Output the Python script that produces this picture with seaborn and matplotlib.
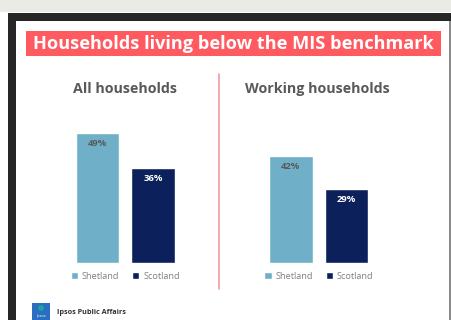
import matplotlib
matplotlib.use("Agg")
import matplotlib.pyplot as plt
from matplotlib.patches import Rectangle, Ellipse
import seaborn as sns
import pandas as pd

regions = ["Shetland", "Scotland"]
all_households = [49, 36]
working_households = [42, 29]
panel_titles = ["All households", "Working households"]
chart_title = "Households living below the MIS benchmark"
footer_text = "Ipsos Public Affairs"

palette = {"Shetland": "#6fb0c8", "Scotland": "#0c215c"}
label_colors = {"Shetland": "#595959", "Scotland": "#ffffff"}

sns.set_theme(style="white")
plt.rcParams["font.family"] = ["Open Sans", "DejaVu Sans"]

W, H = 452, 320
fig = plt.figure(figsize=(W / 100, H / 100), dpi=100)
fig.patch.set_facecolor("white")


def px_rect(x0, y0, x1, y1, **kw):
    fig.patches.append(Rectangle((x0 / W, 1 - y1 / H), (x1 - x0) / W, (y1 - y0) / H,
                                 transform=fig.transFigure, **kw))


# frame around the slide
px_rect(0, 0, W, 12, facecolor="#ebebe6", edgecolor="none")
px_rect(8, 13, W, 21, facecolor="#262626", edgecolor="none")
px_rect(8, 13, 16, H, facecolor="#262626", edgecolor="none")
px_rect(449.5, 21, 451, H, facecolor="#8c8c8c", edgecolor="none")

# title banner
px_rect(26, 31, 441, 56, facecolor="#ff5a60", edgecolor="none")
fig.text(233 / W, 1 - 44 / H, chart_title, color="white", fontsize=13.1,
         fontweight="bold", ha="center", va="center")

# divider between panels
fig.add_artist(plt.Line2D([219 / W, 219 / W], [1 - 74 / H, 1 - 289 / H],
                          transform=fig.transFigure, color="#f4a3a8", lw=1.3))

panels = [
    (all_households, 69.75, 2.65, 125),
    (working_households, 263.25, 2.55, 317),
]

base_y = 263
ax_h = 150
for (values, left, scale, cx), title in zip(panels, panel_titles):
    ax = fig.add_axes([left / W, 1 - base_y / H, 111 / W, ax_h / H])
    df = pd.DataFrame({"region": regions, "value": values})
    sns.barplot(data=df, x="region", y="value", hue="region", palette=palette,
                width=0.78, saturation=1, legend=False, ax=ax)
    ax.set_xlim(-0.5, 1.5)
    ax.set_ylim(0, ax_h / scale)
    ax.axis("off")
    for cont, reg in zip(ax.containers, regions):
        ax.bar_label(cont, labels=[f"{int(v.get_height())}%" for v in cont],
                     padding=-11, color=label_colors[reg], fontsize=6.8,
                     fontweight="bold")
    handles = [Rectangle((0, 0), 1, 1, facecolor=palette[r]) for r in regions]
    leg = ax.legend(handles, regions, loc="center", bbox_to_anchor=(0.5, -0.09),
                    ncol=2, frameon=False, fontsize=6.6, handlelength=0.8,
                    handleheight=0.8, handletextpad=0.4, columnspacing=1.4)
    for t in leg.get_texts():
        t.set_color("#7f7f7f")
    fig.text(cx / W, 1 - 89 / H, title, color="#595959", fontsize=10.3,
             fontweight="bold", ha="center", va="center")

# footer logo and text
px_rect(32, 303, 50, 320, facecolor="#2a6fbf", edgecolor="none")
fig.patches.append(Ellipse((41 / W, 1 - 308 / H), 6 / W, 6 / H,
                           transform=fig.transFigure, facecolor="#1aa3a3",
                           edgecolor="none"))
fig.text(41 / W, 1 - 316 / H, "Ipsos", color="white", fontsize=2.8,
         ha="center", va="center")
fig.text(57 / W, 1 - 313 / H, footer_text, color="#333333", fontsize=5.2,
         fontweight="bold", ha="left", va="center")

fig.savefig("out.png", dpi=100)
